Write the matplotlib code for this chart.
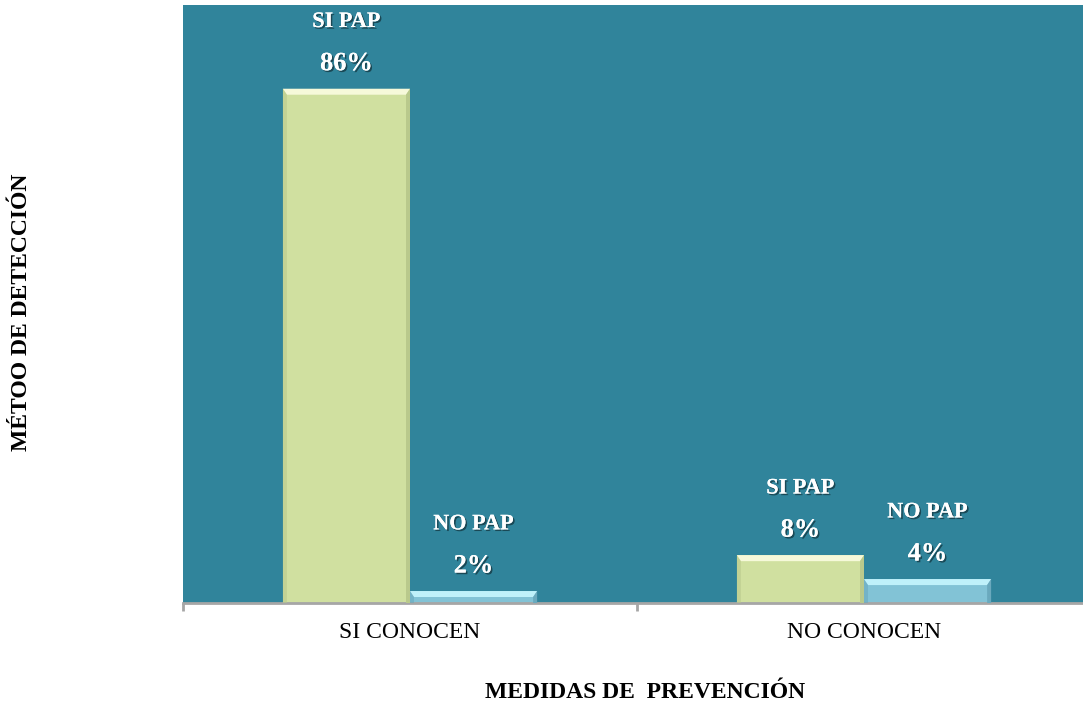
import matplotlib
matplotlib.use("Agg")
import matplotlib.pyplot as plt
import matplotlib.patheffects as pe
from matplotlib.patches import Polygon
import numpy as np

# Data
categories = ["SI CONOCEN", "NO CONOCEN"]
series_names = ["SI PAP", "NO PAP"]
si_pap = [86, 8]
no_pap = [2, 4]
x_title = "MEDIDAS DE  PREVENCIÓN"
y_title = "MÉTOO DE DETECCIÓN"

plt.rcParams["font.family"] = ["Liberation Serif", "DejaVu Serif"]

bg = "#30849b"
face_colors = ["#d0e0a0", "#82c3d6"]
top_colors = ["#f6f9da", "#bff1fa"]
side_colors = ["#b9c98c", "#6aa9bd"]

fig = plt.figure(figsize=(10.83, 7.10), dpi=100)
ax = fig.add_axes([183 / 1083, 1 - 603 / 710, 908 / 1083, 598 / 710])
ax.set_facecolor(bg)

x = np.arange(len(categories))
width = 0.28
bars_si = ax.bar(x - width / 2, si_pap, width, color=face_colors[0], linewidth=0, zorder=2)
bars_no = ax.bar(x + width / 2, no_pap, width, color=face_colors[1], linewidth=0, zorder=2)

ax.set_xlim(-0.5, 1.5)
ax.set_ylim(0, 100)
ax.set_yticks([])
ax.set_xticks(x)
ax.set_xticklabels(categories, fontsize=17)
ax.set_xticks([-0.5, 0.5, 1.5], minor=True)
ax.tick_params(axis="x", which="major", length=0, pad=14)
ax.tick_params(axis="x", which="minor", length=6, width=2, color="#a6a6a6")
for s in ["top", "right", "left"]:
    ax.spines[s].set_visible(False)
ax.spines["bottom"].set_color("#a6a6a6")
ax.spines["bottom"].set_linewidth(2)

# Bevel shading on each bar, built from the bar geometry in display space
def bevel(bar, top_c, side_c, t=6, s=4):
    x0, y0 = bar.get_x(), bar.get_y()
    x1, y1 = x0 + bar.get_width(), y0 + bar.get_height()
    (px0, py0), (px1, py1) = ax.transData.transform([(x0, y0), (x1, y1)])
    tt = min(t, (py1 - py0) / 2)
    top = Polygon([(px0, py1), (px1, py1), (px1 - s, py1 - tt), (px0 + s, py1 - tt)],
                  closed=True, facecolor=top_c, edgecolor="none", transform=None, zorder=3)
    left = Polygon([(px0, py0), (px0, py1), (px0 + s, py1 - tt), (px0 + s, py0)],
                   closed=True, facecolor=side_c, edgecolor="none", transform=None, zorder=3, alpha=0.6)
    right = Polygon([(px1, py0), (px1, py1), (px1 - s, py1 - tt), (px1 - s, py0)],
                    closed=True, facecolor=side_c, edgecolor="none", transform=None, zorder=3)
    for p in (top, left, right):
        fig.add_artist(p)

for b in bars_si:
    bevel(b, top_colors[0], side_colors[0])
for b in bars_no:
    bevel(b, top_colors[1], side_colors[1])

shadow = [pe.withSimplePatchShadow(offset=(1.2, -1.2), shadow_rgbFace="black", alpha=0.45), pe.Normal()]

def label(bar, name, value):
    cx = bar.get_x() + bar.get_width() / 2
    top = bar.get_height()
    ax.annotate(f"{value}%", (cx, top), xytext=(0, 18), textcoords="offset points",
                ha="center", va="center", fontsize=19, fontweight="bold", color="white",
                path_effects=shadow, zorder=5)
    ax.annotate(name, (cx, top), xytext=(0, 48), textcoords="offset points",
                ha="center", va="center", fontsize=16, fontweight="bold", color="white",
                path_effects=shadow, zorder=5)

for b, v in zip(bars_si, si_pap):
    label(b, series_names[0], v)
for b, v in zip(bars_no, no_pap):
    label(b, series_names[1], v)

fig.text(645 / 1083, 1 - 693 / 710, x_title, ha="center", va="center",
         fontsize=17, fontweight="bold", color="black")
fig.text(22 / 1083, 1 - 312 / 710, y_title, ha="center", va="center", rotation=90,
         fontsize=17, fontweight="bold", color="black")

fig.savefig("out.png", dpi=100, facecolor="white")
